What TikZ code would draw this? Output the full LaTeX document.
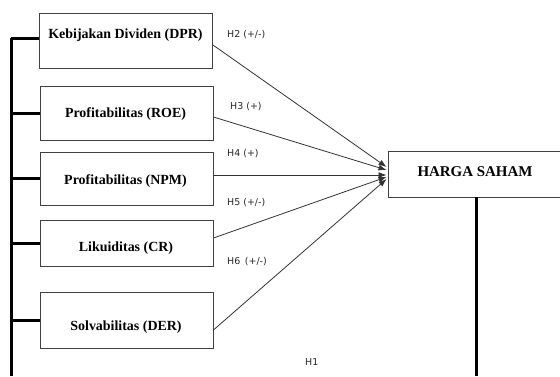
\documentclass[tikz,border=0pt]{standalone}
\usepackage{fontspec}
\setmainfont{Liberation Serif}
\newfontfamily\lblfont{DejaVu Sans}
\usetikzlibrary{arrows.meta,calc}
\begin{document}
\begin{tikzpicture}[x=1bp,y=-1bp,
  varbox/.style={draw=black!75,line width=0.9bp,minimum width=173bp,inner sep=0pt},
  boxtext/.style={font=\fontsize{14}{16}\selectfont\bfseries,inner sep=0pt},
  hyplbl/.style={font=\lblfont\fontsize{9.5}{11}\selectfont,inner sep=0pt,text=black!85},
  thick line/.style={line width=3bp,black},
  hyparrow/.style={draw=black!80,line width=0.8bp,-{Latex[length=8bp,width=6bp]}}]
\useasboundingbox (0,0) rectangle (560,376);
\clip (0,0) rectangle (560,376);
% variable boxes
\node[varbox,minimum height=55bp] (dpr) at (126,40.5) {};
\node[varbox,minimum height=54bp] (roe) at (126.5,113) {};
\node[varbox,minimum height=53bp] (npm) at (126.5,178.5) {};
\node[varbox,minimum height=46bp] (cr)  at (126.5,243) {};
\node[varbox,minimum height=56bp] (der) at (126.5,320) {};
\node[boxtext] (tdpr) at (125.5,35) {Kebijakan Dividen (DPR)};
\node[boxtext] (troe) at (125.5,114) {Profitabilitas (ROE)};
\node[boxtext] (tnpm) at (125.5,181) {Profitabilitas (NPM)};
\node[boxtext] (tcr)  at (126,248) {Likuiditas (CR)};
\node[boxtext] (tder) at (126,327) {Solvabilitas (DER)};
% dependent box
\node[draw=black!75,line width=0.9bp,minimum width=190bp,minimum height=46bp,inner sep=0pt] (harga) at (483,174) {};
\node[boxtext,font=\fontsize{15}{17}\selectfont\bfseries] (tharga) at (475,172) {HARGA SAHAM};
% left spine
\coordinate (sp) at (11,38);
\coordinate (spb) at (11,376);
\draw[thick line] (sp) -- (spb);
\draw[thick line] (sp) -- (sp -| dpr.west);
\draw[thick line] (sp |- roe.west) -- (roe.west);
\draw[thick line] (sp |- npm.west) -- (npm.west);
\draw[thick line] (sp |- cr.west) -- (cr.west);
\draw[thick line] (sp |- der.west) -- (der.west);
% right vertical
\coordinate (rb) at (476,376);
\draw[thick line] (rb |- harga.south) -- (rb);
% arrows
\draw[hyparrow] ($(dpr.east)+(0,4.5)$) -- ($(harga.west)+(-1,-7)$);
\draw[hyparrow] ($(roe.east)+(0,4)$) -- ($(harga.west)+(-1,-4)$);
\draw[hyparrow] ($(npm.east)+(0,-3.5)$) -- ($(harga.west)+(-1,1)$);
\draw[hyparrow] ($(cr.east)+(0,-5)$) -- ($(harga.west)+(-1,3)$);
\draw[hyparrow] ($(der.east)+(0,10)$) -- ($(harga.west)+(-1,5)$);
% labels
\node[hyplbl,anchor=west] (h2) at (227,35) {H2 (+/-)};
\node[hyplbl,anchor=west] (h3) at (230,107) {H3 (+)};
\node[hyplbl,anchor=west] (h4) at (227,154) {H4 (+)};
\node[hyplbl,anchor=west] (h5) at (227,203) {H5 (+/-)};
\node[hyplbl,anchor=west] (h6) at (227,262) {H6\, (+/-)};
\node[hyplbl,anchor=west] (h1) at (305,362) {H1};
\end{tikzpicture}
\end{document}
